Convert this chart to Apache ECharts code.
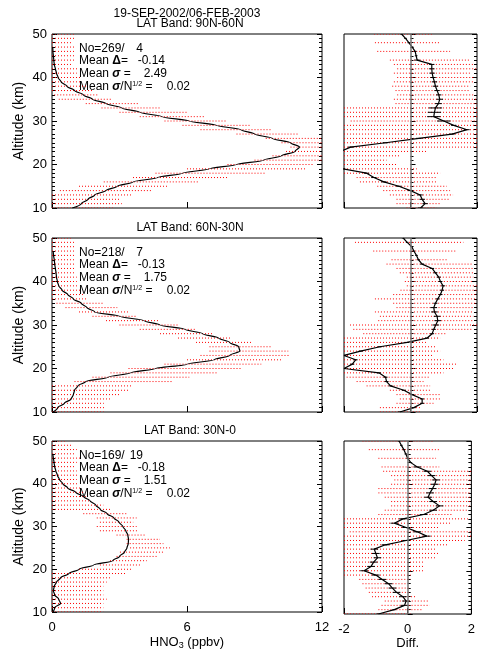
<!DOCTYPE html>
<html>
<head>
<meta charset="utf-8">
<script src="https://cdn.jsdelivr.net/npm/echarts@6/dist/echarts.min.js"></script>
<style>
html, body { margin: 0; padding: 0; background: #fff; }
#main { width: 478px; height: 651px; }
</style>
</head>
<body>
<div id="main"></div>
<script>
// altitude levels (km), top to bottom
var altitudes = [50,49,48,47,46,45,44,43,42,41,40,39,38,37,36,35,34,33,32,31,30,29,28,27,26,25,24,23,22,21,20,19,18,17,16,15,14,13,12,11,10];

// ---- LAT Band 90N-60N ----
var prof1 = [null,null,null,0.03,0.04,0.06,0.08,0.1,0.15,0.2,0.27,0.4,0.66,1.0,1.4,1.8,2.4,3.1,3.9,4.9,6.1,7.3,8.4,9.0,9.8,10.6,11.0,10.8,10.2,9.4,8.2,7.0,5.8,4.7,3.6,2.9,2.4,1.9,1.6,1.3,0.9];
var lo1 = [0,0,0,0,0,0,0,0,0,0,0,0,0,0,0.1,0.3,1.5,2.2,3.0,3.9,5.0,5.8,6.6,8.2,9.5,10.2,10.6,10.4,9.8,9.0,7.8,6.0,4.6,3.6,2.3,1.2,0.35,0,0,0,0];
var hi1 = [1.0,1.0,0.9,1.0,1.0,1.0,1.0,0.9,1.2,1.1,1.3,1.3,1.6,1.8,2.1,2.7,3.9,4.8,6.0,6.8,7.8,8.8,9.8,11.0,12,12,12,12,12,12,11.6,11.3,9.5,7.8,6.5,5.2,4.4,3.6,3.0,3.1,2.7];
var diff1 = [-0.27,-0.15,-0.05,0.05,0.14,0.17,0.2,0.64,0.64,0.65,0.68,0.72,0.75,0.8,0.85,0.88,0.84,0.75,0.72,0.7,1.0,1.3,1.7,1.25,0.25,-0.75,-1.8,-2.1,-2.4,-2.3,-2.2,-2.05,-1.32,-1.1,-0.8,-0.35,0.0,0.29,0.35,0.44,0.3];
var dlo1 = [-1.1,null,-1.07,null,-1.0,null,-0.62,-0.5,-0.4,-0.5,-0.4,-0.5,-0.55,-0.45,-0.4,-0.5,-0.45,-2,-2,-2,-1.8,-2,-2,-2,-2,-2,-2,-2,-2,-2,-2,-2,-2,-1.62,-1.52,-1.0,-0.82,-0.62,-0.42,-0.42,-0.12];
var dhi1 = [0.67,null,0.89,null,1.19,null,1.8,1.9,2,1.8,1.9,1.9,1.8,1.8,1.9,2,2,2,2,2,2,2,2,2,2,2,2,0.49,-0.32,-0.72,-0.42,0.19,0.89,0.79,0.79,1.09,1.19,1.28,1.19,0.89,0.79];
var err1 = [0.04,0.04,0.04,0.04,0.04,0.04,0.08,0.08,0.08,0.08,0.08,0.08,0.08,0.08,0.08,0.1,0.1,0.2,0.2,0.2,0.2,0.08,0.08,0.08,0.08,0.08,0.08,0.08,0.08,0.08,0.08,0.08,0.08,0.08,0.08,0.08,0.08,0.08,0.08,0.08,0.08];

// ---- LAT Band 60N-30N ----
var prof2 = [null,null,null,0.05,0.07,0.1,0.12,0.15,0.18,0.2,0.24,0.3,0.45,0.7,0.95,1.3,1.55,1.9,3.0,4.1,4.8,5.9,6.7,7.4,7.9,8.3,8.35,7.9,7.2,6.0,4.6,3.5,2.5,1.5,1.15,1.0,0.95,0.85,0.55,0.25,0.05];
var lo2 = [0,0,0,0,0,0,0,0,0,0,0,0,0,0,0,0.2,0.6,1.2,1.8,2.4,3.0,3.9,4.8,5.6,6.4,7.0,7.0,6.6,6.0,5.0,3.4,2.6,1.8,1.0,0,0,0,0,0,0,0];
var hi2 = [0.9,1.0,1.0,1.0,1.0,1.0,1.0,1.0,1.0,1.1,1.1,1.2,1.3,1.4,1.6,2.3,2.9,3.4,3.8,4.8,5.6,6.4,7.2,8.0,8.9,9.8,10.5,10.6,10.2,9.3,8.4,7.4,6.1,5.4,3.6,3.4,3.0,2.6,2.3,2.4,2.3];
var diff2 = [-0.22,-0.1,0.04,0.1,0.18,0.24,0.35,0.65,0.75,0.85,0.9,0.98,0.95,0.9,0.82,0.75,0.7,0.72,0.8,0.82,0.76,0.7,0.65,0.5,-0.1,-0.92,-1.5,-2.0,-1.65,-1.75,-2.0,-0.95,-0.75,-0.72,-0.6,-0.2,0.05,0.35,0.35,0.1,-0.32];
var dlo2 = [null,-1.67,null,-1.12,null,-0.57,-0.72,-0.42,-0.32,-0.11,-0.17,-0.11,-0.3,-0.52,-1.07,-0.52,-0.42,-1.07,-0.92,-0.97,-1.82,-1.72,-1.42,-2,-2,-2,-2,-2,-2,-2,-2,-2,-1.92,-1.62,-1.32,-0.62,-0.42,-0.32,-0.42,-0.92,-0.92];
var dhi2 = [null,1.59,null,1.39,null,1.09,1.89,1.89,1.89,1.89,1.89,2,2,2,2,2,1.89,1.89,1.89,1.89,2,1.89,1.09,0.89,0.49,0.79,0.89,0.69,0.99,1.39,1.29,0.99,0.59,0.39,0.59,0.64,0.89,0.89,0.69,0.29,0.29];
var err2 = [0.04,0.04,0.04,0.04,0.04,0.04,0.06,0.06,0.06,0.06,0.06,0.06,0.06,0.06,0.06,0.06,0.1,0.1,0.1,0.1,0.1,0.06,0.06,0.06,0.06,0.06,0.06,0.06,0.06,0.06,0.06,0.06,0.06,0.06,0.06,0.06,0.06,0.06,0.06,0.06,0.06];

// ---- LAT Band 30N-0 ----
var prof3 = [null,null,null,0.03,0.06,0.09,0.12,0.17,0.24,0.33,0.48,0.7,1.05,1.4,1.69,1.95,2.15,2.45,2.75,2.98,3.15,3.28,3.37,3.4,3.39,3.33,3.22,3.0,2.7,1.85,1.2,0.75,0.38,0.2,0.1,0.06,0.12,0.3,0.38,0.12,0.05];
var lo3 = [0,0,0,0,0,0,0,0,0,0,0,0,0,0,0,0,0,1.39,1.99,2.13,1.99,2.13,2.87,3.32,3.32,3.47,3.02,2.87,2.58,2.13,1.2,0,0,0,0,0,0,0,0,0,0];
var hi3 = [0.65,0.9,1.1,1.0,1.24,1.1,1.0,1.1,1.2,1.1,1.2,1.3,1.4,1.5,1.69,2.28,2.58,3.3,3.76,3.61,3.76,3.8,4.2,4.8,4.95,5.24,4.95,4.65,4.21,3.91,3.6,3.32,2.58,2.43,2.28,2.28,2.28,2.43,2.28,2.28,2.28];
var diff3 = [-0.27,-0.2,-0.12,-0.06,0.0,0.1,0.3,0.62,0.75,0.89,0.85,0.78,0.7,0.64,0.8,1.0,0.8,0.5,-0.15,-0.42,-0.05,0.3,0.6,-0.05,-0.7,-1.05,-1.0,-0.95,-1.07,-1.15,-1.37,-1.0,-0.8,-0.6,-0.48,-0.35,-0.15,-0.05,-0.1,-0.42,-0.92];
var dlo3 = [-1.42,null,-1.22,null,-0.92,null,-0.82,-0.77,-0.52,-0.42,-0.52,-0.92,-0.92,-0.72,-0.52,-0.52,-0.72,-0.92,-2,-2,-2,-1.82,-2,-2,-2,-2,-2,-2,-2,-2,-2,-2,-1.52,-1.42,-1.32,-1.22,-1.12,-0.72,-0.82,-0.92,-2];
var dhi3 = [0.79,null,0.99,null,0.89,null,0.99,2,2,2,2,2,2,2,2,2,1.89,1.39,1.89,1.39,0.99,2,2,1.79,1.29,0.89,0.99,0.89,0.49,0.49,0.49,0.09,0.09,-0.02,0.09,0.09,0.29,0.69,0.69,0.49,0.09];
var err3 = [0.04,0.04,0.04,0.04,0.04,0.04,0.12,0.12,0.12,0.12,0.12,0.12,0.12,0.12,0.12,0.12,0.12,0.12,0.12,0.12,0.12,0.12,0.12,0.12,0.12,0.12,0.12,0.12,0.12,0.12,0.12,0.12,0.12,0.12,0.12,0.12,0.12,0.12,0.12,0.06,0.06];

// labels / statistics
var dateRange = "19-SEP-2002/06-FEB-2003";
var bandNames = ["LAT Band: 90N-60N", "LAT Band: 60N-30N", "LAT Band: 30N-0"];
var statNo = ["269/", "218/", "169/"];
var statNoSub = ["4", "7", "19"];
var statDelta = ["-0.14", "-0.13", "-0.18"];
var statSigma = ["2.49", "1.75", "1.51"];
var statSigmaN = ["0.02", "0.02", "0.02"];
var hnoTicks = [0, 6, 12];
var diffTicks = [-2, 0, 2];

var FONT = "Liberation Sans, Arial, sans-serif";

var panels = [
  { prof: prof1, lo: lo1, hi: hi1, diff: diff1, dlo: dlo1, dhi: dhi1, err: err1 },
  { prof: prof2, lo: lo2, hi: hi2, diff: diff2, dlo: dlo2, dhi: dhi2, err: err2 },
  { prof: prof3, lo: lo3, hi: hi3, diff: diff3, dlo: dlo3, dhi: dhi3, err: err3 }
];
var tops = [34, 238, 441];
var heights = [174, 174, 173];

function points(xs) {
  var out = [];
  for (var i = 0; i < altitudes.length; i++) {
    if (xs[i] == null) continue;
    out.push([xs[i], altitudes[i]]);
  }
  return out;
}
function rows(lo, hi) {
  var out = [];
  for (var i = 0; i < altitudes.length; i++) {
    if (lo[i] == null || hi[i] == null) continue;
    out.push([lo[i], hi[i], altitudes[i]]);
  }
  return out;
}
function bars(d, e) {
  var out = [];
  for (var i = 0; i < altitudes.length; i++) {
    out.push([d[i], e[i], altitudes[i]]);
  }
  return out;
}

function drawRow(params, api) {
  var a = api.coord([api.value(0), api.value(2)]);
  var b = api.coord([api.value(1), api.value(2)]);
  return {
    type: "line",
    shape: { x1: a[0], y1: a[1], x2: b[0], y2: b[1] },
    style: { stroke: "#ff0000", lineWidth: 1, lineDash: [1, 2] }
  };
}
function drawBar(params, api) {
  var d = api.value(0), e = api.value(1), y = api.value(2);
  var a = api.coord([d - e, y]);
  var b = api.coord([d + e, y]);
  return {
    type: "line",
    shape: { x1: a[0], y1: a[1], x2: b[0], y2: b[1] },
    style: { stroke: "#000", lineWidth: 1 }
  };
}

// plain text at a point
function label(x, y, text, align, size, rich) {
  var st = { text: text, fill: "#000", font: size + "px " + FONT,
             align: align, textAlign: align, verticalAlign: "middle", textVerticalAlign: "middle" };
  if (rich) st.rich = rich;
  return { type: "text", x: x, y: y, silent: true, style: st };
}

function yAxisOf(grid, pos, withLabel) {
  return {
    type: "value", gridIndex: grid, position: pos,
    min: 10, max: 50, interval: 10,
    axisLine: { show: false },
    axisTick: { show: true, inside: true, length: 5, lineStyle: { color: "#000", width: 1 } },
    minorTick: { show: true, splitNumber: 10, length: 3, lineStyle: { color: "#000", width: 1 } },
    splitLine: { show: false },
    axisLabel: { show: withLabel, color: "#000", fontFamily: FONT, fontSize: 13, margin: 5 },
    name: withLabel ? "Altitude (km)" : "",
    nameLocation: "middle", nameRotate: 90, nameGap: 26, nameMoveOverlap: false,
    nameTextStyle: { color: "#000", fontFamily: FONT, fontSize: 14 }
  };
}
function xAxisOf(grid, ticks, withLabel, name) {
  return {
    type: "value", gridIndex: grid, position: "bottom",
    min: ticks[0], max: ticks[ticks.length - 1], interval: ticks[1] - ticks[0],
    axisLine: { show: false },
    axisTick: { show: true, inside: true, length: 6, lineStyle: { color: "#000", width: 1 } },
    splitLine: { show: false },
    axisLabel: { show: withLabel, color: "#000", fontFamily: FONT, fontSize: 13, margin: 9 },
    name: withLabel ? name : "",
    nameLocation: "middle", nameGap: 23, nameMoveOverlap: false,
    nameTextStyle: {
      color: "#000", fontFamily: FONT, fontSize: 13,
      rich: { sub: { fontFamily: FONT, fontSize: 9, verticalAlign: "bottom", padding: [6, 0, 0, 0] } }
    }
  };
}

var grids = [], xAxes = [], yAxes = [], series = [], graphics = [];

graphics.push(label(187, 14, dateRange, "center", 12));

var rich = {
  b: { fontFamily: FONT, fontSize: 12, fontWeight: "bold" },
  bi: { fontFamily: FONT, fontSize: 12, fontWeight: "bold", fontStyle: "italic" },
  sup: { fontFamily: FONT, fontSize: 7, verticalAlign: "top", padding: [0, 0, 5, 0] }
};

for (var p = 0; p < 3; p++) {
  var pan = panels[p];
  var last = p === 2;
  grids.push({ left: 52, top: tops[p], width: 270, height: heights[p], show: true, borderColor: "#000", borderWidth: 1 });
  grids.push({ left: 344, top: tops[p], width: 133, height: heights[p], show: true, borderColor: "#000", borderWidth: 1 });

  xAxes.push(xAxisOf(2 * p, hnoTicks, last, "HNO{sub|3} (ppbv)"));
  xAxes.push(xAxisOf(2 * p + 1, diffTicks, last, "Diff."));

  yAxes.push(yAxisOf(2 * p, "left", true));
  yAxes.push(yAxisOf(2 * p, "right", false));
  yAxes.push(yAxisOf(2 * p + 1, "left", false));
  yAxes.push(yAxisOf(2 * p + 1, "right", false));

  // left panel: spread rows + mean profile
  series.push({
    type: "custom", xAxisIndex: 2 * p, yAxisIndex: 4 * p, clip: true,
    dimensions: ["lo", "hi", "alt"], encode: { x: ["lo", "hi"], y: "alt" },
    renderItem: drawRow, data: rows(pan.lo, pan.hi), silent: true
  });
  series.push({
    type: "line", xAxisIndex: 2 * p, yAxisIndex: 4 * p,
    data: points(pan.prof), showSymbol: false, smooth: 0.3, smoothMonotone: "y",
    lineStyle: { color: "#000", width: 1.2 }, silent: true
  });

  // right panel: spread rows, zero line, mean difference, error bars
  series.push({
    type: "custom", xAxisIndex: 2 * p + 1, yAxisIndex: 4 * p + 2, clip: true,
    dimensions: ["lo", "hi", "alt"], encode: { x: ["lo", "hi"], y: "alt" },
    renderItem: drawRow, data: rows(pan.dlo, pan.dhi), silent: true,
    markLine: {
      silent: true, symbol: "none", label: { show: false },
      lineStyle: { color: "#777", width: 1.5, type: "solid" },
      data: [{ xAxis: 0 }]
    }
  });
  series.push({
    type: "line", xAxisIndex: 2 * p + 1, yAxisIndex: 4 * p + 2, clip: true,
    data: points(pan.diff), showSymbol: false,
    lineStyle: { color: "#000", width: 1.2 }, silent: true
  });
  series.push({
    type: "custom", xAxisIndex: 2 * p + 1, yAxisIndex: 4 * p + 2, clip: true,
    dimensions: ["d", "e", "alt"], encode: { x: "d", y: "alt" },
    renderItem: drawBar, data: bars(pan.diff, pan.err), silent: true
  });

  // band title
  graphics.push(label(190, tops[p] - 10, bandNames[p], "center", 12));

  // statistics block
  var t = tops[p];
  graphics.push(label(79, t + 14.5, "No=" + statNo[p], "left", 12));
  graphics.push(label(143, t + 14.5, statNoSub[p], "right", 12));
  graphics.push(label(79, t + 27, "Mean {b|\u0394}=", "left", 12, rich));
  graphics.push(label(165, t + 27, statDelta[p], "right", 12));
  graphics.push(label(79, t + 39.5, "Mean {bi|\u03c3} =", "left", 12, rich));
  graphics.push(label(167, t + 39.5, statSigma[p], "right", 12));
  graphics.push(label(79, t + 52.5, "Mean {bi|\u03c3}/N{sup|1/2} =", "left", 12, rich));
  graphics.push(label(190, t + 52.5, statSigmaN[p], "right", 12));
}

var myChart = echarts.init(document.getElementById("main"));
myChart.setOption({
  animation: false,
  backgroundColor: "#fff",
  grid: grids,
  xAxis: xAxes,
  yAxis: yAxes,
  series: series,
  graphic: graphics
});
</script>
</body>
</html>
